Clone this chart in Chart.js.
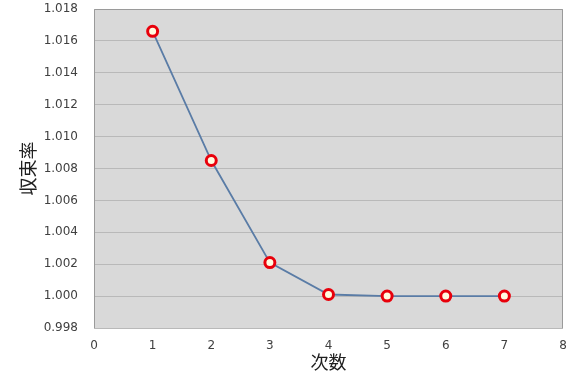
<!DOCTYPE html>
<html>
<head>
<meta charset="utf-8">
<script src="https://cdn.jsdelivr.net/npm/chart.js@4/dist/chart.umd.min.js"></script>
<style>
  html, body { margin: 0; padding: 0; background: #ffffff; }
  #wrap { width: 571px; height: 374px; }
</style>
</head>
<body>
<div id="wrap"><canvas id="c" width="571" height="374"></canvas></div>
<script>
// 反復回数と収束率
const iterations = [1, 2, 3, 4, 5, 6, 7];
const convergence = [1.0166, 1.0085, 1.0021, 1.0001, 1.0000, 1.0000, 1.0000];
const xTicks = [0, 1, 2, 3, 4, 5, 6, 7, 8];
const yTicks = [0.998, 1.000, 1.002, 1.004, 1.006, 1.008, 1.010, 1.012, 1.014, 1.016, 1.018];
const xTitle = '次数';
const yTitle = '収束率';

// プロットエリアの背景と枠線
const plotArea = {
  id: 'plotArea',
  beforeDraw(chart) {
    const { ctx, chartArea: a } = chart;
    ctx.save();
    ctx.fillStyle = '#d9d9d9';
    ctx.fillRect(a.left, a.top, a.right - a.left, a.bottom - a.top);
    ctx.restore();
  },
  afterDraw(chart) {
    const { ctx, chartArea: a } = chart;
    ctx.save();
    ctx.strokeStyle = '#9a9a9a';
    ctx.lineWidth = 1;
    ctx.beginPath();
    ctx.moveTo(a.left + 0.5, a.bottom);
    ctx.lineTo(a.left + 0.5, a.top + 0.5);
    ctx.lineTo(a.right - 0.5, a.top + 0.5);
    ctx.lineTo(a.right - 0.5, a.bottom);
    ctx.stroke();
    ctx.restore();
  }
};

const tickFont = { family: 'DejaVu Sans', size: 12 };
const titleFont = { family: 'Noto Sans CJK JP', size: 18 };

new Chart(document.getElementById('c'), {
  type: 'line',
  data: {
    datasets: [{
      data: iterations.map((x, i) => ({ x, y: convergence[i] })),
      borderColor: '#5a7ca6',
      borderWidth: 1.8,
      pointRadius: 5,
      pointBorderWidth: 3,
      pointBorderColor: '#e8000b',
      pointBackgroundColor: '#fffbe0',
      tension: 0,
      fill: false
    }]
  },
  options: {
    responsive: false,
    animation: false,
    devicePixelRatio: 1,
    layout: { padding: { top: 9, right: 8, bottom: 0, left: 0 } },
    plugins: { legend: { display: false }, tooltip: { enabled: false } },
    scales: {
      x: {
        type: 'linear',
        min: xTicks[0],
        max: xTicks[xTicks.length - 1],
        afterBuildTicks(s) { s.ticks = xTicks.map(v => ({ value: v })); },
        afterFit(s) { s.height = 46; s.paddingLeft = 0; s.paddingRight = 0; },
        grid: { display: false, drawTicks: false },
        border: { display: false },
        ticks: { padding: 11, color: '#404040', font: tickFont, callback: v => String(v) },
        title: { display: true, text: xTitle, color: '#202020', font: titleFont, padding: { top: 0, bottom: 1 } }
      },
      y: {
        type: 'linear',
        min: yTicks[0],
        max: yTicks[yTicks.length - 1],
        afterBuildTicks(s) { s.ticks = yTicks.map(v => ({ value: v })); },
        afterFit(s) { s.width = 94; s.paddingTop = 0; s.paddingBottom = 0; },
        grid: { color: '#b9b9b9', lineWidth: 1, drawTicks: false },
        border: { display: false },
        ticks: { padding: 16, color: '#404040', font: tickFont, callback: v => v.toFixed(3) },
        title: { display: true, text: yTitle, color: '#202020', font: titleFont, padding: { top: 17, bottom: 0 } }
      }
    }
  },
  plugins: [plotArea]
});
</script>
</body>
</html>
